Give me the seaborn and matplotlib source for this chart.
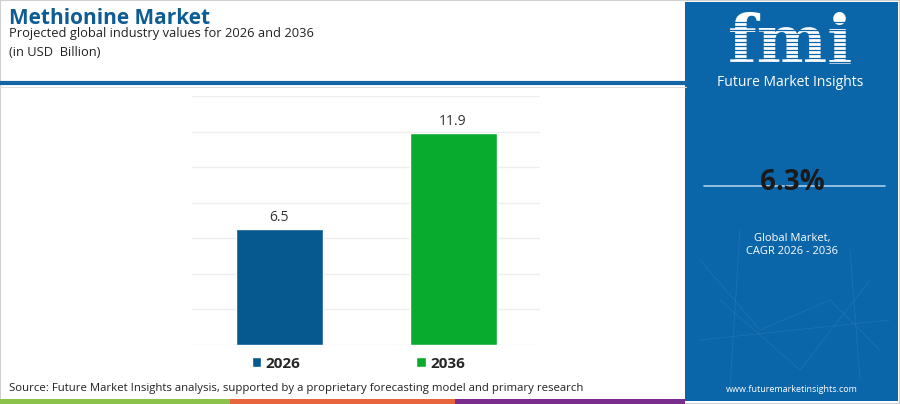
import matplotlib
matplotlib.use("Agg")
import matplotlib.pyplot as plt
import matplotlib.patches as mpatches
import matplotlib.lines as mlines
import seaborn as sns
import pandas as pd

# ---- data ----
years = ["2026", "2036"]
values = [6.5, 11.9]
bar_colors = ["#06598E", "#09AB2E"]
title = "Methionine Market"
subtitle = "Projected global industry values for 2026 and 2036"
unit = "(in USD  Billion)"
cagr = "6.3%"
source = "Source: Future Market Insights analysis, supported by a proprietary forecasting model and primary research"

sns.set_theme(style="white")
plt.rcParams['font.family'] = ['Open Sans', 'DejaVu Sans']

df = pd.DataFrame({"year": years, "value": values})

fig = plt.figure(figsize=(9, 4.04), dpi=100)
fig.patch.set_facecolor("white")

W, H = 900.0, 404.0
def fx(x): return x / W
def fy(y): return 1 - y / H

# outer thin gray border
fig.add_artist(mpatches.Rectangle((0, 0), 1, 1, transform=fig.transFigure,
                                  fill=False, edgecolor="#d0d0d0", lw=1.5))

# header separator
fig.add_artist(mlines.Line2D([0, fx(686)], [fy(83), fy(83)], transform=fig.transFigure,
                             color="#1565A6", lw=3))
fig.add_artist(mlines.Line2D([0, fx(686)], [fy(86.5), fy(86.5)], transform=fig.transFigure,
                             color="#dddddd", lw=0.8))

# title block
fig.text(fx(9), fy(18), title, fontsize=15, fontweight="bold", color="#0F5B93",
         va="center", ha="left")
fig.text(fx(9), fy(34), subtitle, fontsize=9.3, color="#222222", va="center", ha="left")
fig.text(fx(9), fy(53), unit, fontsize=9.3, color="#222222", va="center", ha="left")

# right panel
fig.add_artist(mpatches.Rectangle((fx(685), fy(401)), fx(898) - fx(685), fy(2) - fy(401),
                                  transform=fig.transFigure, facecolor="#0B66A9",
                                  edgecolor="none"))
# faint network lines for texture
net = [((700, 260), (760, 330)), ((760, 330), (830, 300)), ((830, 300), (880, 350)),
       ((720, 300), (800, 370)), ((800, 370), (870, 280)), ((740, 230), (730, 390)),
       ((850, 250), (860, 380)), ((700, 340), (890, 320))]
for (x0, y0), (x1, y1) in net:
    fig.add_artist(mlines.Line2D([fx(x0), fx(x1)], [fy(y0), fy(y1)], transform=fig.transFigure,
                                 color="#3f8cc4", lw=0.5, alpha=0.35))

fig.text(fx(790), fy(44), "fmi", fontsize=48, fontweight="bold", color="white",
         family=["DejaVu Serif"], ha="center", va="center")
# stripes across the logo letters
for yy in range(22, 68, 4):
    l = mlines.Line2D([fx(718), fx(870)], [fy(yy), fy(yy)], transform=fig.transFigure,
                      color="#0B66A9", lw=0.9)
    l.set_zorder(5)
    fig.add_artist(l)
fig.text(fx(790), fy(83), "Future Market Insights", fontsize=10, color="white",
         ha="center", va="center")
fig.add_artist(mlines.Line2D([fx(704), fx(885)], [fy(186), fy(186)], transform=fig.transFigure,
                             color="#a9cbe6", lw=1.2))
fig.text(fx(792), fy(183), cagr, fontsize=20, fontweight="bold", color="#1a1a1a",
         ha="center", va="center")
fig.text(fx(792), fy(238), "Global Market,", fontsize=8, color="white", ha="center", va="center")
fig.text(fx(792), fy(251), "CAGR 2026 - 2036", fontsize=8, color="white", ha="center", va="center")
fig.text(fx(792), fy(389), "www.futuremarketinsights.com", fontsize=6.5, color="white",
         ha="center", va="center")

# bottom color stripe
for x0, x1, c in [(0, 230, "#8BC34A"), (230, 455, "#E8643C"), (455, 685, "#7B2D8E")]:
    fig.add_artist(mpatches.Rectangle((fx(x0), 0), fx(x1) - fx(x0), fy(399),
                                      transform=fig.transFigure, facecolor=c, edgecolor="none"))

fig.text(fx(9), fy(389), source, fontsize=8.2, color="#222222", ha="left", va="center")

# ---- chart ----
ax = fig.add_axes([fx(192), fy(345), fx(540) - fx(192), fy(96) - fy(345)])
sns.barplot(data=df, x="year", y="value", hue="year", palette=bar_colors,
            width=0.5, ax=ax, legend=True, saturation=1)
ax.set_ylim(0, 14)
ax.set_xlim(-0.5, 1.5)
ax.set_yticks(range(0, 15, 2))
ax.yaxis.grid(True, color="#eeeeee", lw=1)
ax.set_axisbelow(True)
ax.tick_params(left=False, bottom=False, labelleft=False, labelbottom=False)
for s in ax.spines.values():
    s.set_visible(False)
ax.set_xlabel("")
ax.set_ylabel("")
for cont in ax.containers:
    ax.bar_label(cont, fmt="%.1f", padding=3, fontsize=10, color="#333333")

sns.move_legend(ax, "center", bbox_to_anchor=(0.478, -0.075), ncol=2, frameon=False,
                title=None, columnspacing=7.6, handlelength=0.6, handleheight=0.6,
                handletextpad=0.3, prop={"weight": "bold", "size": 11})

fig.savefig("out.png", dpi=100, facecolor="white")
